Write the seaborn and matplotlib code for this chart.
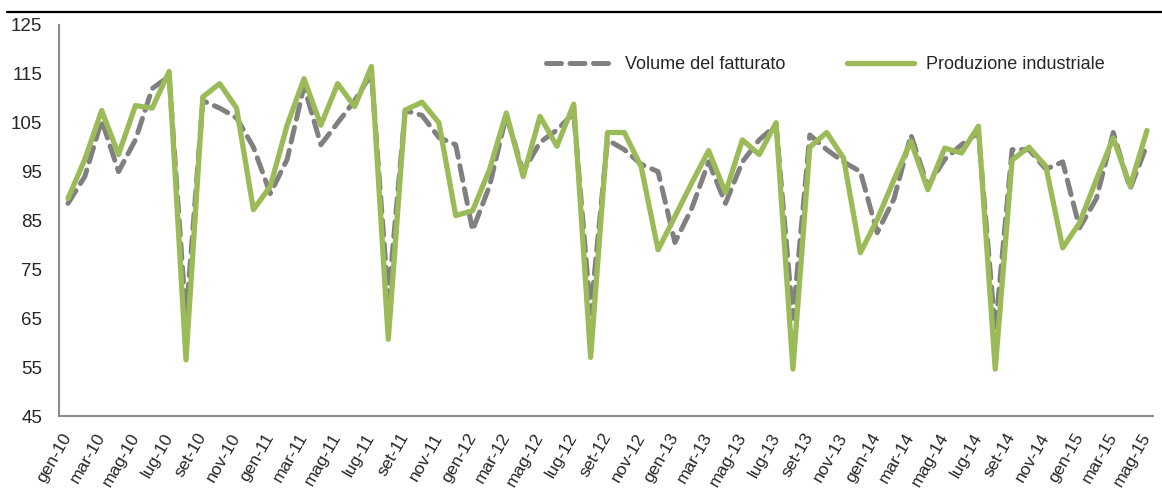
import matplotlib
matplotlib.use('Agg')
import matplotlib.pyplot as plt
from matplotlib.lines import Line2D
import seaborn as sns
import pandas as pd

# mesi da gen-10 a mag-15
mesi_it = ['gen', 'feb', 'mar', 'apr', 'mag', 'giu', 'lug', 'ago', 'set', 'ott', 'nov', 'dic']
mesi = [f"{m}-{a}" for a in range(10, 16) for m in mesi_it][:65]

volume_fatturato = [
    88.5, 94.0, 105.5, 95.0, 101.5, 112.0, 114.5, 65.0, 109.5, 108.0, 106.0, 100.0,
    90.5, 97.5, 112.5, 100.5, 105.0, 109.5, 115.0, 69.0, 107.5, 106.5, 102.0, 100.5,
    83.0, 92.0, 106.5, 95.0, 101.0, 103.5, 107.0, 66.0, 101.5, 99.5, 96.5, 95.0,
    80.5, 87.5, 97.0, 88.5, 97.0, 101.5, 104.5, 65.0, 102.5, 99.5, 97.0, 95.0,
    82.5, 89.5, 102.5, 92.0, 97.5, 100.5, 103.0, 62.5, 99.5, 99.5, 95.5, 97.0,
    83.5, 89.5, 103.0, 91.5, 100.5,
]
produzione_industriale = [
    89.5, 97.5, 107.5, 98.5, 108.5, 108.0, 115.5, 56.5, 110.3, 113.0, 108.0, 87.2,
    92.0, 104.5, 114.0, 104.5, 113.0, 108.3, 116.5, 60.7, 107.6, 109.2, 105.0, 86.0,
    87.0, 95.4, 107.0, 94.0, 106.3, 100.2, 108.8, 57.0, 103.0, 103.0, 96.0, 79.0,
    85.8, 92.7, 99.3, 90.7, 101.5, 98.5, 105.0, 54.6, 100.0, 103.0, 97.8, 78.4,
    85.2, 93.4, 101.2, 91.3, 99.8, 98.8, 104.3, 54.6, 97.4, 100.0, 96.1, 79.4,
    84.5, 93.4, 101.9, 92.0, 103.4,
]

df = pd.DataFrame({
    'pos': range(len(mesi)),
    'mese': mesi,
    'Volume del fatturato': volume_fatturato,
    'Produzione industriale': produzione_industriale,
})

sns.set_style('white')
plt.rcParams['font.family'] = ['Liberation Sans', 'DejaVu Sans']

fig = plt.figure(figsize=(11.62, 4.88), dpi=100)
ax = fig.add_axes([0.0508, 0.1475, 0.9415, 0.8013])

sns.lineplot(data=df, x='pos', y='Volume del fatturato', ax=ax, color='#808080',
             linewidth=3.6, label='Volume del fatturato')
ax.lines[-1].set_dashes([3.0, 1.7])
ax.lines[-1].set_dash_capstyle('round')
sns.lineplot(data=df, x='pos', y='Produzione industriale', ax=ax, color='#9BBB59',
             linewidth=3.8, label='Produzione industriale')

ax.set_ylim(45, 125)
ax.set_yticks(range(45, 126, 10))
ax.set_xlim(-0.53, 64.36)
ax.set_xticks(df['pos'][::2])
ax.set_xticklabels(df['mese'][::2], rotation=60, ha='right', va='center',
                   rotation_mode='anchor', fontsize=12.5)
ax.tick_params(axis='y', labelsize=13.5, length=0, pad=12)
ax.tick_params(axis='x', length=0, pad=13)
ax.set_xlabel('')
ax.set_ylabel('')

for s in ['top', 'right']:
    ax.spines[s].set_visible(False)
for s in ['left', 'bottom']:
    ax.spines[s].set_color('#8c8c8c')
    ax.spines[s].set_linewidth(1.5)

leg = ax.legend(ncol=2, loc='upper right', bbox_to_anchor=(0.956, 0.92), frameon=False,
                borderaxespad=0, borderpad=0, fontsize=13, handlelength=3.7,
                columnspacing=3.4, handletextpad=0.7)

# linea nera in alto
fig.add_artist(Line2D([0.006, 1.0], [0.975, 0.975], color='black', linewidth=1.6))

fig.savefig('out.png', dpi=100)
